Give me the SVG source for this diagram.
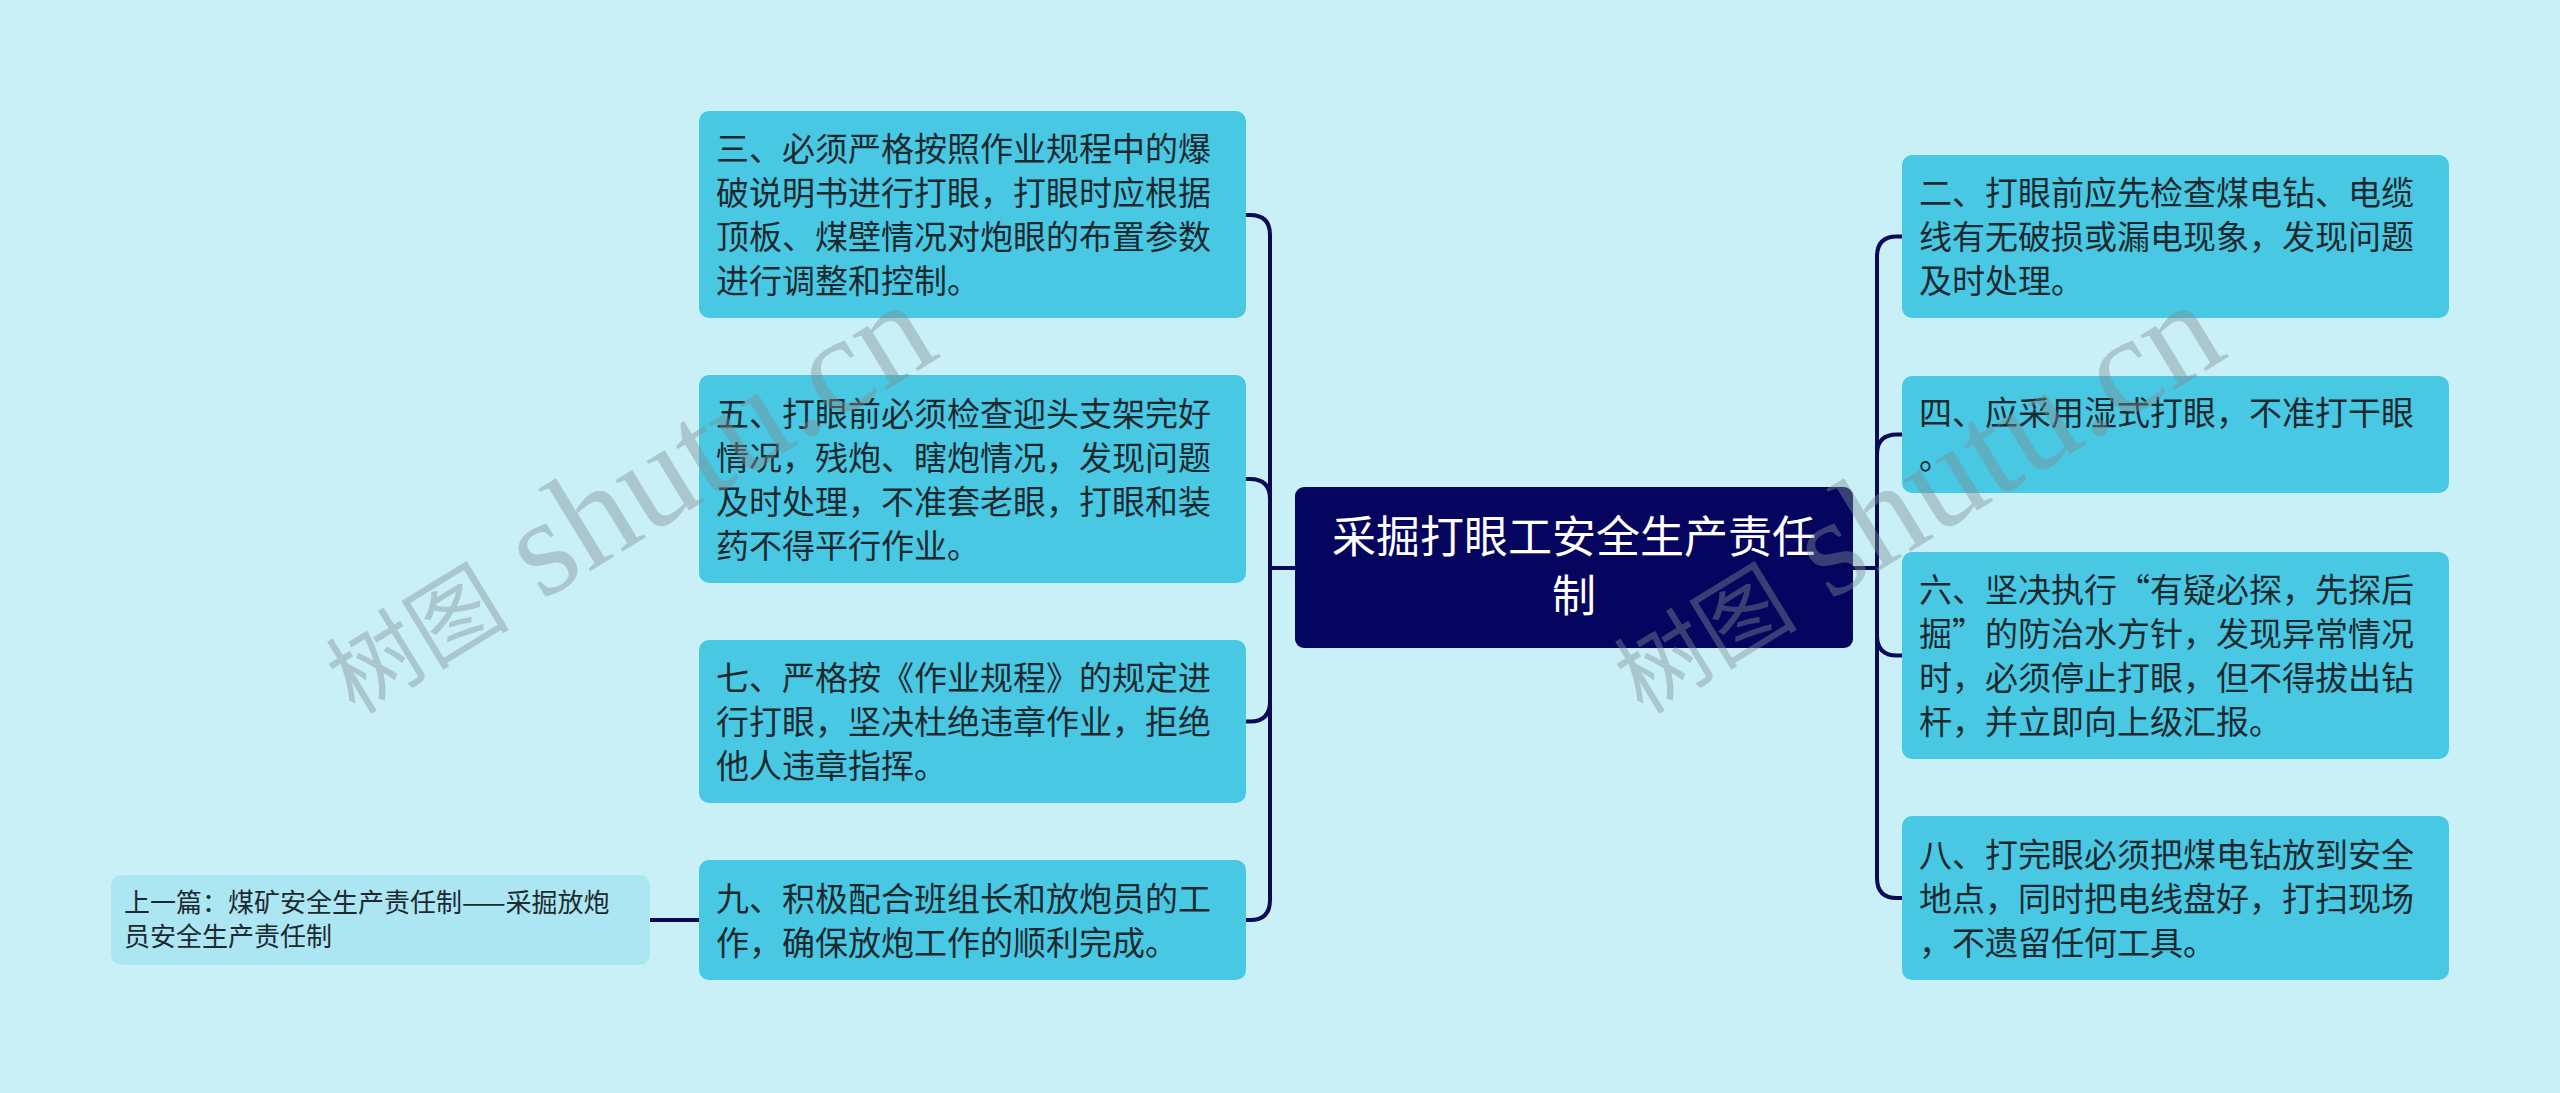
<svg xmlns="http://www.w3.org/2000/svg" width="2560" height="1093" viewBox="0 0 2560 1093">
<style>
.bg{fill:#c9f0f7}
.box{fill:#48c8e2}
.prev{fill:#ade6f3}
.root{fill:#050560}
.t{font-family:"Noto Sans CJK SC","Noto Sans",sans-serif;font-size:33px;fill:#1c2a30}
.tp{font-family:"Noto Sans CJK SC","Noto Sans",sans-serif;font-size:26px;fill:#1c2a30}
.tr{font-family:"Noto Sans CJK SC","Noto Sans",sans-serif;font-size:44px;fill:#ffffff;text-anchor:middle}
.c{fill:none;stroke:#0a0a55;stroke-width:4}
.wm{font-family:"Liberation Serif","Noto Sans CJK SC",serif;fill:#7f8f93;opacity:0.42}
.wc{font-size:92px}
.wl{font-size:140px}
</style>
<rect class="bg" x="0" y="0" width="2560" height="1093"/>
<g id="connectors">
<path class="c" d="M1295,568 H1270 V235 Q1270,215 1250,215 H1246"/>
<path class="c" d="M1295,568 H1270 V499 Q1270,479 1250,479 H1246"/>
<path class="c" d="M1295,568 H1270 V701.5 Q1270,721.5 1250,721.5 H1246"/>
<path class="c" d="M1295,568 H1270 V900 Q1270,920 1250,920 H1246"/>
<path class="c" d="M1853,568 H1877 V256.5 Q1877,236.5 1897,236.5 H1902"/>
<path class="c" d="M1853,568 H1877 V454.5 Q1877,434.5 1897,434.5 H1902"/>
<path class="c" d="M1853,568 H1877 V635.5 Q1877,655.5 1897,655.5 H1902"/>
<path class="c" d="M1853,568 H1877 V878 Q1877,898 1897,898 H1902"/>
<path class="c" d="M650,920 H699"/>
</g>
<g id="root">
<rect class="root" x="1295" y="487" width="558" height="161" rx="9"/>
<text class="tr" x="1574" y="553">采掘打眼工安全生产责任</text>
<text class="tr" x="1574" y="612">制</text>
</g>
<g id="n3">
<rect class="box" x="699" y="111" width="547" height="207" rx="10"/>
<text class="t" x="716" y="161">三、必须严格按照作业规程中的爆</text>
<text class="t" x="716" y="205">破说明书进行打眼，打眼时应根据</text>
<text class="t" x="716" y="249">顶板、煤壁情况对炮眼的布置参数</text>
<text class="t" x="716" y="293">进行调整和控制。</text>
</g>
<g id="n5">
<rect class="box" x="699" y="375" width="547" height="208" rx="10"/>
<text class="t" x="716" y="425.5">五、打眼前必须检查迎头支架完好</text>
<text class="t" x="716" y="469.5">情况，残炮、瞎炮情况，发现问题</text>
<text class="t" x="716" y="513.5">及时处理，不准套老眼，打眼和装</text>
<text class="t" x="716" y="557.5">药不得平行作业。</text>
</g>
<g id="n7">
<rect class="box" x="699" y="640" width="547" height="163" rx="10"/>
<text class="t" x="716" y="690">七、严格按《作业规程》的规定进</text>
<text class="t" x="716" y="734">行打眼，坚决杜绝违章作业，拒绝</text>
<text class="t" x="716" y="778">他人违章指挥。</text>
</g>
<g id="n9">
<rect class="box" x="699" y="860" width="547" height="120" rx="10"/>
<text class="t" x="716" y="910.5">九、积极配合班组长和放炮员的工</text>
<text class="t" x="716" y="954.5">作，确保放炮工作的顺利完成。</text>
</g>
<g id="prev">
<rect class="prev" x="111" y="875" width="539" height="90" rx="10"/>
<text class="tp" x="124" y="912">上一篇：煤矿安全生产责任制——采掘放炮</text>
<text class="tp" x="124" y="946">员安全生产责任制</text>
</g>
<g id="n2">
<rect class="box" x="1902" y="155" width="547" height="163" rx="10"/>
<text class="t" x="1919" y="205">二、打眼前应先检查煤电钻、电缆</text>
<text class="t" x="1919" y="249">线有无破损或漏电现象，发现问题</text>
<text class="t" x="1919" y="293">及时处理。</text>
</g>
<g id="n4">
<rect class="box" x="1902" y="376" width="547" height="117" rx="10"/>
<text class="t" x="1919" y="425">四、应采用湿式打眼，不准打干眼</text>
<text class="t" x="1919" y="469">。</text>
</g>
<g id="n6">
<rect class="box" x="1902" y="552" width="547" height="207" rx="10"/>
<text class="t" x="1919" y="602">六、坚决执行“有疑必探，先探后</text>
<text class="t" x="1919" y="646">掘”的防治水方针，发现异常情况</text>
<text class="t" x="1919" y="690">时，必须停止打眼，但不得拔出钻</text>
<text class="t" x="1919" y="734">杆，并立即向上级汇报。</text>
</g>
<g id="n8">
<rect class="box" x="1902" y="816" width="547" height="164" rx="10"/>
<text class="t" x="1919" y="866.5">八、打完眼必须把煤电钻放到安全</text>
<text class="t" x="1919" y="910.5">地点，同时把电线盘好，打扫现场</text>
<text class="t" x="1919" y="954.5">，不遗留任何工具。</text>
</g>
<g id="watermark">
<text class="wm" x="293" y="535" transform="rotate(-31.5 644 516)"><tspan class="wc">树图</tspan><tspan class="wl"> shutu.cn</tspan></text>
<text class="wm" x="1581" y="535" transform="rotate(-31.5 1932 516)"><tspan class="wc">树图</tspan><tspan class="wl"> shutu.cn</tspan></text>
</g>
</svg>
